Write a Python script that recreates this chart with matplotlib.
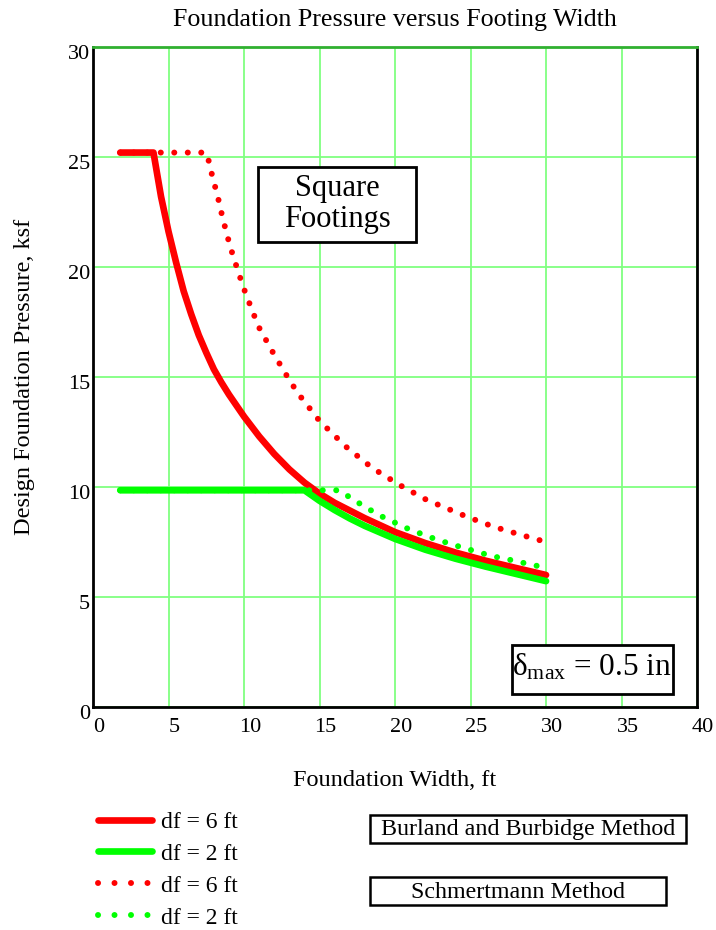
import matplotlib.pyplot as plt
import matplotlib.transforms as mtransforms
from matplotlib.lines import Line2D
from matplotlib.patches import Rectangle

plt.rcParams['font.family'] = ['Liberation Serif', 'DejaVu Serif']
plt.rcParams['mathtext.fontset'] = 'custom'
plt.rcParams['mathtext.rm'] = 'Liberation Serif'

# --- Data ---
# Burland and Burbidge, df = 6 ft
bb6_width = [1.8, 4.0, 4.5, 5.0, 5.5, 6.0, 6.5, 7.0, 7.5, 8.0, 8.5, 9.0, 10.0, 11.0, 12.0, 13.0,
             14.0, 15.0, 16.0, 18.0, 20.0, 22.0, 24.0, 26.0, 28.0, 30.0]
bb6_press = [25.2, 25.2, 23.2, 21.6, 20.2, 18.9, 17.85, 16.9, 16.1, 15.35, 14.75, 14.2, 13.2, 12.3,
             11.5, 10.8, 10.2, 9.7, 9.28, 8.58, 7.95, 7.45, 7.02, 6.65, 6.32, 6.0]

# Burland and Burbidge, df = 2 ft
bb2_width = [1.8, 14.0, 15.0, 16.0, 17.0, 18.0, 20.0, 22.0, 24.0, 26.0, 28.0, 30.0]
bb2_press = [9.85, 9.85, 9.37, 8.95, 8.57, 8.23, 7.64, 7.15, 6.74, 6.38, 6.05, 5.72]

# Schmertmann, df = 6 ft
sc6_width = [1.8, 7.5, 7.75, 7.93, 8.19, 8.59, 9.07, 9.63, 10.1, 10.95, 11.94, 13.0, 13.6,
             15.0, 16.75, 18.5, 20.3, 22.1, 24.75, 26.5, 28.3, 30.0]
sc6_press = [25.2, 25.2, 24.6, 24.0, 23.4, 22.2, 20.95, 19.74, 18.8, 17.3, 16.08, 14.86, 14.23,
             13.0, 11.83, 10.86, 10.09, 9.41, 8.65, 8.2, 7.83, 7.5]

# Schmertmann, df = 2 ft
sc2_width = [1.8, 16.3, 17.2, 18.1, 19.0, 19.9, 20.8, 21.7, 22.6, 23.5, 24.4, 25.25, 26.1,
             27.0, 27.9, 28.8, 30.0]
sc2_press = [9.85, 9.85, 9.44, 9.06, 8.7, 8.41, 8.12, 7.88, 7.65, 7.45, 7.26, 7.09, 6.92,
             6.77, 6.65, 6.5, 6.33]

x_ticks = [0, 5, 10, 15, 20, 25, 30, 35, 40]
y_ticks = [0, 5, 10, 15, 20, 25, 30]
legend_labels = ['df = 6 ft', 'df = 2 ft', 'df = 6 ft', 'df = 2 ft']

RED = '#ff0000'
GREEN = '#00ff00'
GRID = '#80ff80'
SOLID_LW = 4.8
DOT_LW = 4.3
DOTS = (0, (0.01, 2.25))
LEGEND_DOTS = (0, (0.01, 2.75))

fig = plt.figure(figsize=(7.16, 9.30), dpi=100)
ax = fig.add_axes([0.130, 0.2398, 0.8435, 0.7097])

ax.plot(bb6_width, bb6_press, color=RED, lw=SOLID_LW, solid_capstyle='round',
        solid_joinstyle='round', zorder=3)
ax.plot(bb2_width, bb2_press, color=GREEN, lw=SOLID_LW, solid_capstyle='round',
        solid_joinstyle='round', zorder=4)
ax.plot(sc6_width, sc6_press, color=RED, lw=DOT_LW, linestyle=DOTS, dash_capstyle='round', zorder=3)
ax.plot(sc2_width, sc2_press, color=GREEN, lw=DOT_LW, linestyle=DOTS, dash_capstyle='round', zorder=3)

ax.set_xlim(0, 40)
ax.set_ylim(0, 30)
ax.set_xticks(x_ticks)
ax.set_yticks(y_ticks)
ax.tick_params(length=0, labelsize=16)
ax.tick_params(axis='x', pad=8)
ax.tick_params(axis='y', pad=2)
ax.grid(True, color=GRID, lw=1.3)
ax.set_axisbelow(True)
for side in ['left', 'bottom', 'right']:
    ax.spines[side].set_linewidth(2)
    ax.spines[side].set_color('black')
ax.spines['top'].set_color('#30b030')
ax.spines['top'].set_linewidth(2)

# Mathcad draws tick labels slightly offset from the grid lines
x_shift = mtransforms.ScaledTranslation(6 / 100, 0, fig.dpi_scale_trans)
y_shift = mtransforms.ScaledTranslation(0, -5 / 100, fig.dpi_scale_trans)
for lbl in ax.get_xticklabels():
    lbl.set_transform(lbl.get_transform() + x_shift)
for lbl in ax.get_yticklabels():
    lbl.set_transform(lbl.get_transform() + y_shift)

ax.set_title('Foundation Pressure versus Footing Width', fontsize=18.7, pad=15)
ax.set_xlabel('Foundation Width, ft', fontsize=17.5, labelpad=24)
ax.set_ylabel('Design Foundation Pressure, ksf', fontsize=17.5, labelpad=24)

# --- Annotation boxes ---
ax.add_patch(Rectangle((0.273, 0.7045), 0.262, 0.1135, transform=ax.transAxes,
                       fc='white', ec='black', lw=2, zorder=5))
ax.text(0.404, 0.762, 'Square\nFootings', transform=ax.transAxes, fontsize=22, ha='center',
        va='center', linespacing=1.05, zorder=6)
ax.add_patch(Rectangle((0.694, 0.0197), 0.266, 0.0742, transform=ax.transAxes,
                       fc='white', ec='black', lw=2, zorder=5))
ax.text(0.826, 0.060, r'$\mathrm{δ_{max}}$ = 0.5 in', transform=ax.transAxes, fontsize=22.5,
        ha='center', va='center', zorder=6)

# --- Legend below the plot ---
handles = [
    Line2D([], [], color=RED, lw=SOLID_LW, solid_capstyle='round'),
    Line2D([], [], color=GREEN, lw=SOLID_LW, solid_capstyle='round'),
    Line2D([], [], color=RED, lw=DOT_LW, linestyle=LEGEND_DOTS, dash_capstyle='round'),
    Line2D([], [], color=GREEN, lw=DOT_LW, linestyle=LEGEND_DOTS, dash_capstyle='round'),
]
fig.legend(handles, legend_labels, loc='upper left', bbox_to_anchor=(0.107, 0.1505), frameon=False,
           fontsize=17, handlelength=2.3, handletextpad=0.38, labelspacing=0.44)

fig.add_artist(Rectangle((0.5168, 0.0935), 0.4413, 0.0301, transform=fig.transFigure,
                         fc='white', ec='black', lw=1.8))
fig.text(0.7374, 0.1086, 'Burland and Burbidge Method', fontsize=17.3, ha='center', va='center')
fig.add_artist(Rectangle((0.5168, 0.0269), 0.4134, 0.0301, transform=fig.transFigure,
                         fc='white', ec='black', lw=1.8))
fig.text(0.7235, 0.0405, 'Schmertmann Method', fontsize=17.3, ha='center', va='center')

fig.savefig('out.png', dpi=100)
